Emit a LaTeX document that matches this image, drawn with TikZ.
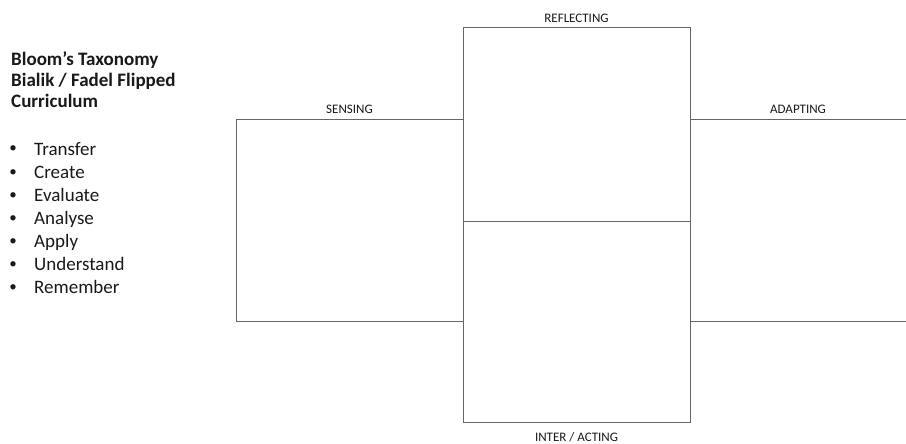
\documentclass[tikz,border=0pt]{standalone}
\usepackage{fontspec}
\setmainfont{Carlito}
\usetikzlibrary{positioning}

\begin{document}
\begin{tikzpicture}[x=1pt, y=-1pt, font=\fontsize{19}{23}\selectfont, text=black!90,
                stage box/.style={draw=black!60, line width=1pt, minimum width=227pt, inner sep=0pt, outer sep=0pt},
                stage label/.style={font=\fontsize{13}{15}\selectfont, inner sep=0pt, text height=9pt, text depth=0pt},
                open side/.style={draw=black!60, line width=1pt}]
                \useasboundingbox (0,0) rectangle (906,444);

                % Heading and taxonomy levels
                \node[anchor=base west, inner sep=0pt, font=\bfseries\fontsize{19}{21.5}\selectfont, align=left] (title) at (11,108)
                    {Bloom’s Taxonomy\\Bialik / Fadel Flipped\\Curriculum};
                \foreach \level [count=\i from 0] in {Transfer, Create, Evaluate, Analyse, Apply, Understand, Remember} {
                    \node[anchor=base, inner sep=0pt, font=\fontsize{15}{18}\selectfont] (dot\i) at (13,153+23*\i) {•};
                    \node[anchor=base west, inner sep=0pt] (level\i) at (34,155+23*\i) {\level};
                }

                % Stage boxes
                \node[stage box, minimum height=193pt] (reflect) at (576.5,124.5) {};
                \node[stage box, minimum height=201pt, below=0pt of reflect] (interact) {};
                \node[stage box, minimum height=201pt] (sensing) at (349.5,220.5) {};

                % Open box on the right
                \coordinate (adapt top) at (906,120);
                \coordinate (adapt bottom) at (906,321);
                \coordinate (adapt mid) at (798,120);
                \draw[open side] (sensing.north -| reflect.east) -- (adapt top);
                \draw[open side] (sensing.south -| reflect.east) -- (adapt bottom);

                % Stage names
                \node[stage label, above=5pt of reflect.north] (reflect label) {REFLECTING};
                \node[stage label, above=6pt of sensing.north] (sensing label) {SENSING};
                \node[stage label, above=6pt of adapt mid] (adapt label) {ADAPTING};
                \node[stage label, below=10pt of interact.south] (interact label) {INTER / ACTING};
            \end{tikzpicture}
\end{document}
